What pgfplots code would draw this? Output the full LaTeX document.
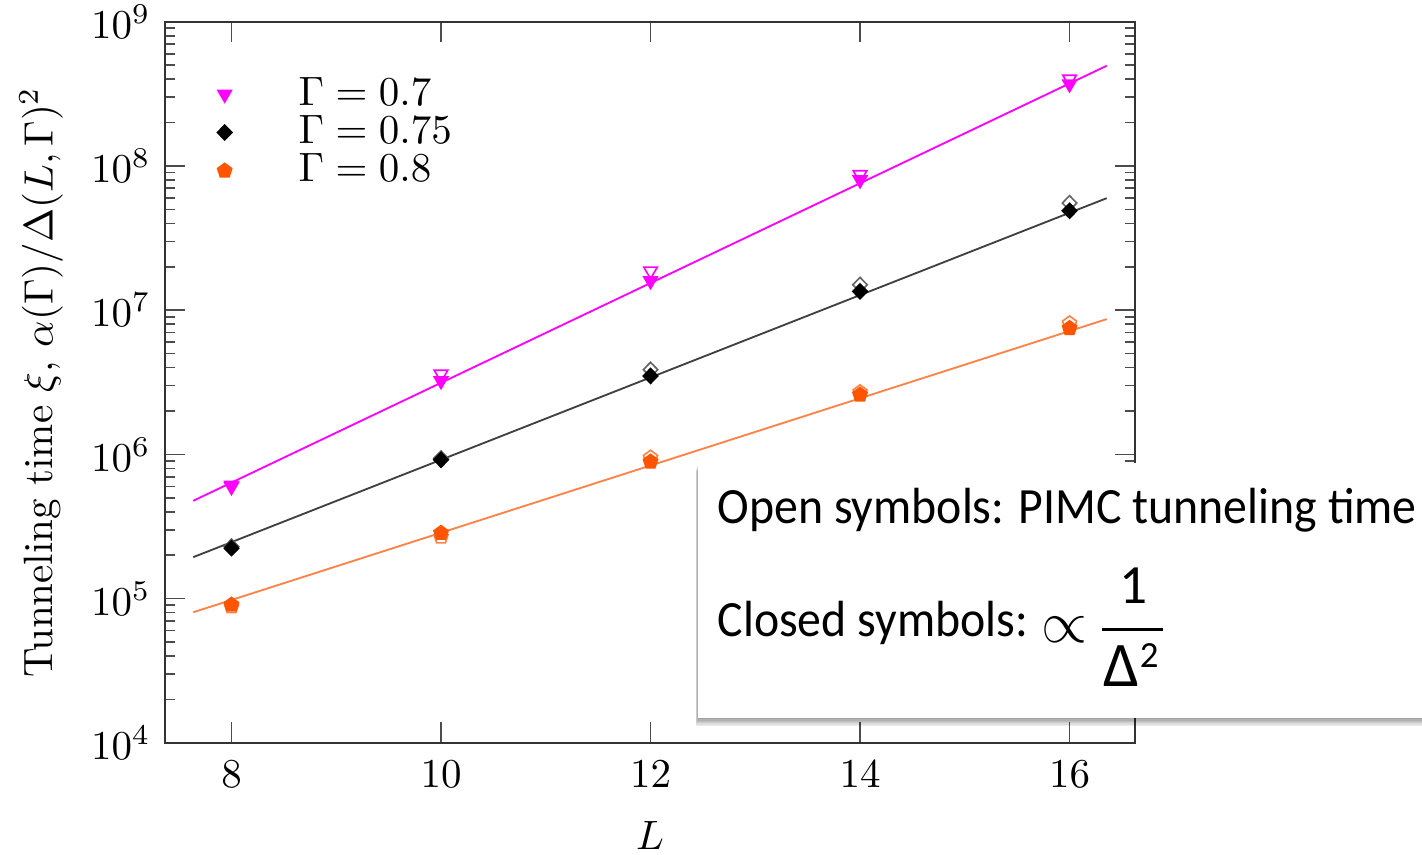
\documentclass[border=0pt]{standalone}
\usepackage{amsmath}
\usepackage{fontspec}
\usepackage{pgfplots}
\pgfplotsset{compat=1.18}
\newfontfamily\carlito[FakeStretch=0.94]{Carlito}
\newfontfamily\carlitoN{Carlito}
\definecolor{mag}{RGB}{255,0,255}
\definecolor{orgm}{RGB}{255,85,0}
\definecolor{orgl}{RGB}{255,130,70}

\pgfplotstableread{
L y
8 5.98e5
10 3.24e6
12 1.60e7
14 8.0e7
16 3.7e8
}\magclosed
\pgfplotstableread{
L y
8 6.1e5
10 3.6e6
12 1.87e7
14 8.7e7
16 4.0e8
}\magopen
\pgfplotstableread{
L y
8 2.24e5
10 9.18e5
12 3.5e6
14 1.35e7
16 4.89e7
}\blkclosed
\pgfplotstableread{
L y
8 2.3e5
10 9.4e5
12 3.87e6
14 1.5e7
16 5.53e7
}\blkopen
\pgfplotstableread{
L y
8 9.06e4
10 2.85e5
12 8.9e5
14 2.59e6
16 7.5e6
}\orgclosed
\pgfplotstableread{
L y
8 8.8e4
10 2.68e5
12 9.5e5
14 2.7e6
16 8.1e6
}\orgopen

\begin{document}
\begin{tikzpicture}
\begin{axis}[
  at={(0,0)}, anchor=south west,
  scale only axis,
  width=236.6pt, height=175.9pt,
  xmin=7.365, xmax=16.625,
  ymode=log, ymin=1e4, ymax=1e9,
  xtick={8,10,12,14,16},
  ytick={1e4,1e5,1e6,1e7,1e8,1e9},
  major tick length=5pt,
  minor tick length=2.5pt,
  axis line style={line width=0.5pt, black!80},
  every tick/.style={black!70, line width=0.4pt},
  xticklabel style={yshift=-1pt},
  xlabel={$L$},
  xlabel style={yshift=-1.3pt},
  ylabel={Tunneling time $\xi$, $\alpha(\Gamma)/\Delta(L,\Gamma)^2$},
  legend style={at={(0.0406,0.947)}, anchor=north west, draw=none, fill=none,
    row sep=-3pt, font=\normalsize},
  legend cell align=left,
]
% fitted lines
\addplot[mag, line width=0.45pt, forget plot] coordinates {(7.635,4.77e5) (16.355,4.95e8)};
\addplot[black!75, line width=0.45pt, forget plot] coordinates {(7.635,1.94e5) (16.355,5.98e7)};
\addplot[orgl, line width=0.45pt, forget plot] coordinates {(7.635,8.05e4) (16.355,8.67e6)};
% open symbols
\addplot[only marks, mag, mark=triangle, mark size=1.9pt, mark options={rotate=180}, forget plot] table[x=L,y=y] {\magopen};
\addplot[only marks, black!60, mark=diamond, mark size=1.8pt, mark options={xscale=1.3}, forget plot] table[x=L,y=y] {\blkopen};
\addplot[only marks, orgl, mark=pentagon, mark size=1.8pt, forget plot] table[x=L,y=y] {\orgopen};
% closed symbols
\addplot[only marks, mag, mark=triangle*, mark size=1.9pt, mark options={rotate=180}] table[x=L,y=y] {\magclosed};
\addlegendentry{\hspace{14.3pt}$\Gamma=0.7$}
\addplot[only marks, black, mark=diamond*, mark size=1.8pt, mark options={xscale=1.3}] table[x=L,y=y] {\blkclosed};
\addlegendentry{\hspace{14.3pt}$\Gamma=0.75$}
\addplot[only marks, orgm, mark=pentagon*, mark size=1.8pt] table[x=L,y=y] {\orgclosed};
\addlegendentry{\hspace{14.3pt}$\Gamma=0.8$}
\end{axis}
% overlay text box with soft shadow
\foreach \i in {1,...,6} {
  \fill[black, opacity=0.07] (130pt-0.1*\i pt,6.1pt-0.33*\i pt) rectangle (312pt,68.3pt-0.33*\i pt);
}
\fill[white] (130pt,6.1pt) rectangle (312pt,68.3pt);
\node[anchor=base west, inner sep=0pt, font=\carlito\fontsize{12.4}{15}\selectfont] at (134.6pt,53.4pt) {Open symbols: PIMC tunneling time};
\node[anchor=base west, inner sep=0pt, font=\carlito\fontsize{12.4}{15}\selectfont] at (134.6pt,25.9pt) {Closed symbols:};
% proportional sign and fraction 1/Delta^2
\node[inner sep=0pt, font=\fontsize{14}{17}\selectfont] at (219.3pt,27.6pt) {$\propto$};
\node[anchor=base, inner sep=0pt, font=\carlitoN\fontsize{13.5}{16}\selectfont] at (236.3pt,34.1pt) {1};
\draw[line width=0.65pt] (228.5pt,27.6pt) -- (243.4pt,27.6pt);
\node[anchor=base west, inner sep=0pt, font=\carlitoN\fontsize{15.5}{18}\selectfont] at (228.6pt,13.7pt) {Δ};
\node[anchor=base west, inner sep=0pt, font=\carlitoN\fontsize{9}{11}\selectfont] at (237.6pt,18.3pt) {2};
\pgfresetboundingbox
\path (-40.24pt,-27.3pt) rectangle (306.6pt,181.2pt);
\end{tikzpicture}
\end{document}
